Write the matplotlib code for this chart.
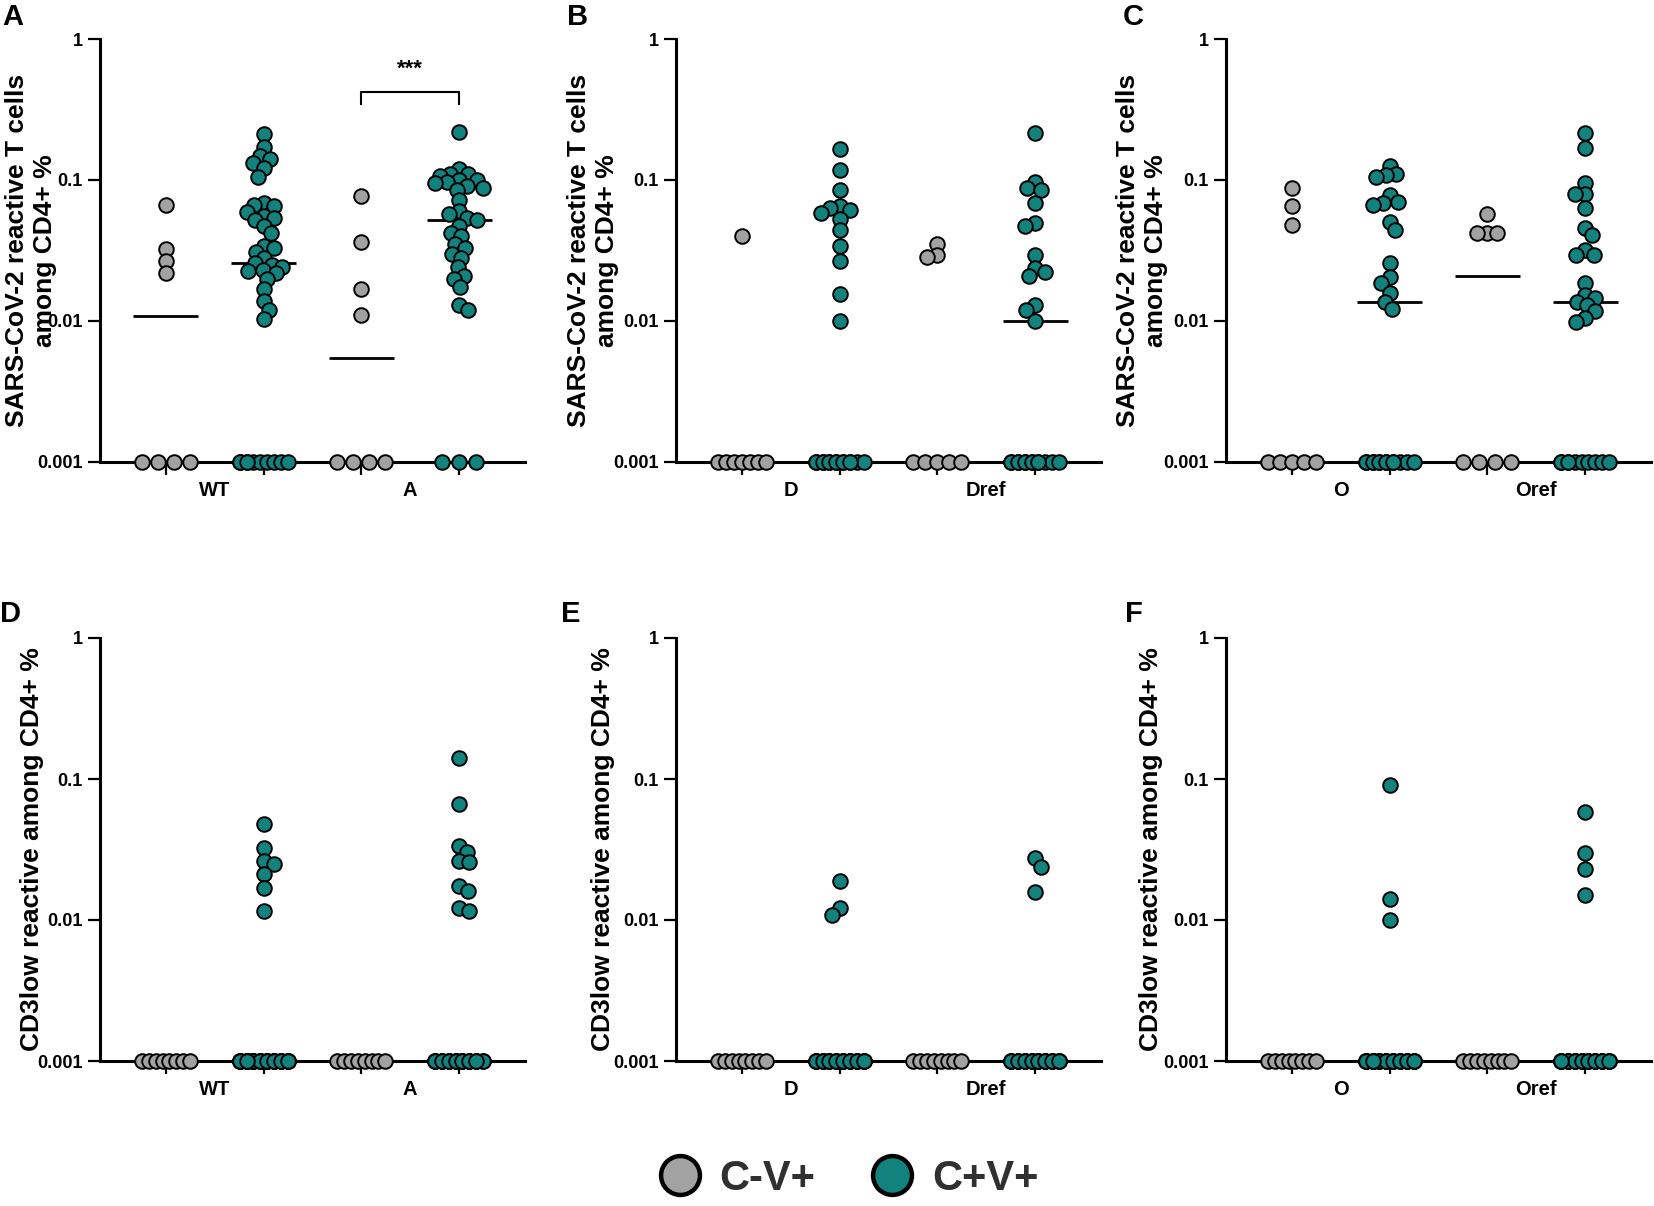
import numpy as np
import matplotlib
matplotlib.use("Agg")
import matplotlib.pyplot as plt
import matplotlib.ticker as mticker
from matplotlib.lines import Line2D

plt.rcParams['font.family'] = ['Liberation Sans', 'DejaVu Sans']
plt.rcParams['font.weight'] = 'bold'

# ---- data (% among CD4+) ----
# positive values per group; zeros are counted separately and drawn on the 0.001 line
A_labels = ["WT", "A"]
A_wt_cneg = [0.0665, 0.0322, 0.0267, 0.0218]
A_wt_cpos = [0.212, 0.172, 0.148, 0.14, 0.131, 0.121, 0.1056, 0.0684, 0.0665, 0.065,
             0.059, 0.056, 0.0535, 0.052, 0.0474, 0.0418, 0.034, 0.0328, 0.0307, 0.0278,
             0.0256, 0.025, 0.0243, 0.023, 0.0226, 0.0218, 0.0198, 0.0168, 0.0139, 0.012, 0.0103]
A_a_cneg = [0.077, 0.0361, 0.0168, 0.011]
A_a_cpos = [0.218, 0.119, 0.111, 0.1096, 0.107, 0.1, 0.1, 0.097, 0.0958, 0.09,
            0.088, 0.085, 0.072, 0.06, 0.057, 0.054, 0.052, 0.047, 0.042, 0.04,
            0.035, 0.033, 0.03, 0.028, 0.024, 0.021, 0.02, 0.0175, 0.0129, 0.0119]
A_zeros = [4, 10, 4, 3]

B_labels = ["D", "Dref"]
B_d_cneg = [0.0401]
B_d_cpos = [0.166, 0.118, 0.0843, 0.065, 0.0632, 0.0612, 0.058, 0.0527, 0.0443, 0.0339,
            0.0265, 0.0156, 0.01]
B_dref_cneg = [0.0352, 0.0294, 0.0286]
B_dref_cpos = [0.217, 0.0973, 0.088, 0.0848, 0.0685, 0.0499, 0.0468, 0.0294, 0.0236, 0.0224,
               0.0207, 0.013, 0.012, 0.01]
B_zeros = [7, 14, 5, 13]

C_labels = ["O", "Oref"]
C_o_cneg = [0.0873, 0.0654, 0.048]
C_o_cpos = [0.126, 0.11, 0.108, 0.105, 0.0783, 0.07, 0.069, 0.066, 0.0506, 0.044,
            0.0256, 0.0205, 0.0187, 0.0158, 0.0137, 0.0121]
C_oref_cneg = [0.0574, 0.0418, 0.0418, 0.0418]
C_oref_cpos = [0.214, 0.168, 0.0957, 0.079, 0.079, 0.063, 0.0459, 0.0407, 0.0319, 0.0294,
               0.0294, 0.0187, 0.0153, 0.0145, 0.0137, 0.013, 0.0117, 0.0105, 0.0098]
C_zeros = [5, 13, 4, 10]

D_wt_cpos = [0.048, 0.0322, 0.0264, 0.025, 0.0212, 0.017, 0.0115]
D_a_cpos = [0.14, 0.0665, 0.0333, 0.0302, 0.0264, 0.0256, 0.0175, 0.016, 0.0122, 0.0115]
D_zeros = [8, 34, 8, 23]

E_d_cpos = [0.019, 0.0121, 0.0108]
E_dref_cpos = [0.0274, 0.0239, 0.0157]
E_zeros = [8, 24, 8, 24]

F_o_cpos = [0.0906, 0.0141, 0.01]
F_oref_cpos = [0.0586, 0.0299, 0.023, 0.0151]
F_zeros = [8, 26, 8, 25]

legend_labels = ["C-V+", "C+V+"]
ytick_vals = [0.001, 0.01, 0.1, 1]
ytick_text = ["0.001", "0.01", "0.1", "1"]
ylabel_top = "SARS-CoV-2 reactive T cells\namong CD4+ %"
ylabel_bottom = "CD3low reactive among CD4+ %"

grey = '#A2A2A2'
teal = '#12827E'

# ---- layout (pixels on a 1654 x 1206 canvas) ----
W, H = 1654, 1206
fig = plt.figure(figsize=(W / 100, H / 100), dpi=100)

col_left = [100, 676, 1226]
row_top = [39, 638]
ax_w, ax_h = 425, 423
x_lo, x_hi = -0.675, 3.675
GROUP_PX = ax_w / (x_hi - x_lo)
DECADE_PX = ax_h / 3.0


def swarm_offsets(vals, diam=16.5, limit=24.0, gap=0.6):
    # simple beeswarm in pixel space, overlap allowed up to `gap`
    ys = np.log10(vals) * DECADE_PX
    xs = np.zeros(len(ys))
    done = []
    cands = np.arange(-limit, limit + 0.5, 1.0)
    flip = 1
    for i in np.argsort(-ys):
        order = sorted(cands, key=lambda c: (abs(c), c * flip))
        best, best_d = 0.0, -1
        for c in order:
            if done:
                d = min(np.hypot(c - px, ys[i] - py) for px, py in done)
            else:
                d = 1e9
            if d >= gap * diam:
                best = c
                break
            if d > best_d:
                best, best_d = c, d
        xs[i] = best
        done.append((best, ys[i]))
        flip = -flip
    return xs


def zero_offsets(n, spacing=17.0, width=48.0, max_slots=8):
    # zeros sit on the 0.001 line; many zeros share a limited number of slots
    if n <= 1:
        return np.zeros(n)
    slots = min(n, max_slots)
    w = min((slots - 1) * spacing, width)
    pos = np.linspace(-w / 2, w / 2, slots)
    return pos[np.arange(n) % slots]


def draw_panel(col, row, groups, zeros, labels, ylabel, ylab_x, letter, letter_xy):
    left = col_left[col]
    top = row_top[row]
    ax = fig.add_axes([left / W, 1 - (top + ax_h) / H, ax_w / W, ax_h / H])
    ax.set_yscale('log')
    ax.set_ylim(0.001, 1)
    ax.set_xlim(x_lo, x_hi)
    for s in ['top', 'right']:
        ax.spines[s].set_visible(False)
    for s in ['left', 'bottom']:
        ax.spines[s].set_linewidth(2.2)

    for g, (vals, nz) in enumerate(zip(groups, zeros)):
        color = grey if g % 2 == 0 else teal
        raw = np.array(list(vals) + [0.0] * nz)
        med = np.median(raw)
        if med > 0:
            ax.hlines(med, g - 0.333, g + 0.333, color='black', lw=2.0, zorder=2)
        xs, ys = [], []
        if len(vals):
            off = swarm_offsets(np.array(vals))
            xs += list(g + off / GROUP_PX)
            ys += list(vals)
        xs += list(g + zero_offsets(nz) / GROUP_PX)
        ys += [0.001] * nz
        ax.plot(xs, ys, 'o', ms=10.5, mfc=color, mec='black', mew=1.4,
                ls='none', clip_on=False, zorder=3)

    ax.set_yticks(ytick_vals)
    ax.set_yticklabels(ytick_text)
    ax.yaxis.set_minor_locator(mticker.NullLocator())
    ax.set_xticks([0, 1, 2, 3])
    ax.set_xticks([0.5, 2.5], minor=True)
    ax.set_xticklabels(labels, minor=True)
    ax.tick_params(axis='y', which='major', length=9, width=1.6, labelsize=13, pad=3.5)
    ax.tick_params(axis='x', which='major', length=9, width=1.6, labelbottom=False)
    ax.tick_params(axis='x', which='minor', length=0, labelsize=14.5, pad=14)

    ax.text(ylab_x, 0.5, ylabel, transform=ax.transAxes, rotation=90,
            ha='center', va='center', fontsize=19, multialignment='center',
            linespacing=1.2)
    fig.text(letter_xy[0] / W, 1 - letter_xy[1] / H, letter, fontsize=21,
             ha='left', va='baseline', weight='bold')
    return ax


axA = draw_panel(0, 0, [A_wt_cneg, A_wt_cpos, A_a_cneg, A_a_cpos], A_zeros, A_labels,
                 ylabel_top, -0.162, "A", (2, 25))
draw_panel(1, 0, [B_d_cneg, B_d_cpos, B_dref_cneg, B_dref_cpos], B_zeros, B_labels,
           ylabel_top, -0.195, "B", (567, 25))
draw_panel(2, 0, [C_o_cneg, C_o_cpos, C_oref_cneg, C_oref_cpos], C_zeros, C_labels,
           ylabel_top, -0.198, "C", (1123, 25))
draw_panel(0, 1, [[], D_wt_cpos, [], D_a_cpos], D_zeros, A_labels,
           ylabel_bottom, -0.16, "D", (0, 622))
draw_panel(1, 1, [[], E_d_cpos, [], E_dref_cpos], E_zeros, B_labels,
           ylabel_bottom, -0.172, "E", (561, 622))
draw_panel(2, 1, [[], F_o_cpos, [], F_oref_cpos], F_zeros, C_labels,
           ylabel_bottom, -0.176, "F", (1125, 622))

# significance bracket between A C-V+ and A C+V+
axA.plot([2, 2, 3, 3], [0.346, 0.42, 0.42, 0.346], color='black', lw=1.5, clip_on=False)
axA.text(2.5, 0.56, '***', ha='center', va='baseline', fontsize=16)

handles = [Line2D([], [], ls='none', marker='o', ms=28, mfc=grey, mec='black', mew=3.2),
           Line2D([], [], ls='none', marker='o', ms=28, mfc=teal, mec='black', mew=3.2)]
fig.legend(handles, legend_labels, loc='center', bbox_to_anchor=(0.513, 1 - 1179 / H),
           ncol=2, frameon=False, prop={'weight': 'bold', 'size': 30},
           handlelength=1.0, handletextpad=0.45, columnspacing=1.35, labelcolor='#303030')

fig.savefig("out.png", dpi=100)
